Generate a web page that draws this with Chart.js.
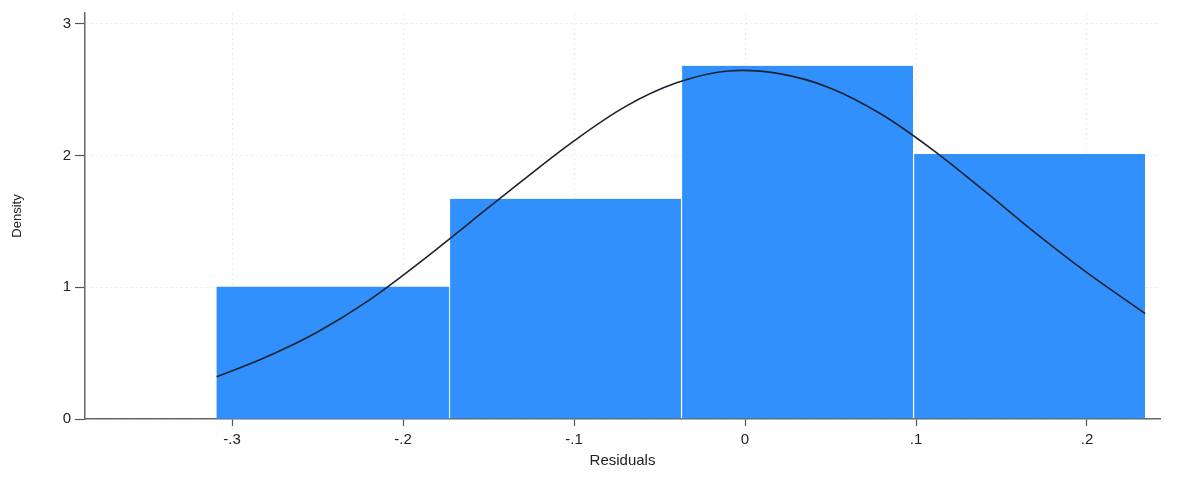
<!DOCTYPE html>
<html>
<head>
<meta charset="utf-8">
<script src="https://cdn.jsdelivr.net/npm/chart.js@4.4.1/dist/chart.umd.min.js"></script>
<style>
  html, body { margin: 0; padding: 0; background: #fff; }
  #wrap { width: 1177px; height: 486px; }
</style>
</head>
<body>
<div id="wrap"><canvas id="histChart" width="1177" height="486"></canvas></div>
<script>
// Histogram bins (centers) and their densities
const binCenters = [-0.241, -0.1053, 0.0304, 0.1661];
const binDensity = [1.0, 1.67, 2.68, 2.01];

// Overlaid normal density curve
const curveX = [-0.309, -0.28, -0.25, -0.22, -0.19, -0.16, -0.13, -0.10, -0.07, -0.04, -0.01, 0.02, 0.05, 0.08, 0.11, 0.14, 0.17, 0.20, 0.234];
const curveY = [0.32, 0.47, 0.66, 0.90, 1.19, 1.50, 1.81, 2.11, 2.37, 2.55, 2.64, 2.62, 2.51, 2.31, 2.04, 1.73, 1.41, 1.11, 0.80];

// Axis ticks
const xTicks = [-0.3, -0.2, -0.1, 0, 0.1, 0.2];
const xTickLabels = ['-.3', '-.2', '-.1', '0', '.1', '.2'];
const yTicks = [0, 1, 2, 3];

const tickFont = { family: "'Liberation Sans', Arial, sans-serif", size: 15 };
const textColor = '#222';

const ctx = document.getElementById('histChart').getContext('2d');

new Chart(ctx, {
    type: 'bar',
    data: {
        datasets: [
            {
                type: 'line',
                data: curveX.map((x, i) => ({ x: x, y: curveY[i] })),
                borderColor: '#1c2230',
                borderWidth: 1.6,
                pointRadius: 0,
                tension: 0.35,
                order: 0
            },
            {
                type: 'bar',
                data: binCenters.map((x, i) => ({ x: x, y: binDensity[i] })),
                backgroundColor: '#3190fb',
                borderColor: 'rgba(255,255,255,0.4)',
                // light separator between neighbouring bins only
                borderWidth: c => ({ left: c.dataIndex === 0 ? 0 : 1.5, right: 0, top: 0, bottom: 0 }),
                borderSkipped: false,
                barThickness: 'flex',
                categoryPercentage: 1,
                barPercentage: 1,
                order: 1
            }
        ]
    },
    options: {
        responsive: false,
        animation: false,
        layout: { padding: { left: 0, right: 17, top: 12, bottom: 0 } },
        plugins: {
            legend: { display: false },
            tooltip: { enabled: false }
        },
        scales: {
            x: {
                type: 'linear',
                min: -0.386,
                max: 0.2427,
                offset: false,
                afterBuildTicks: s => { s.ticks = xTicks.map(v => ({ value: v })); },
                afterFit: s => { s.height = 67; },
                ticks: {
                    color: textColor,
                    font: tickFont,
                    padding: 5,
                    maxRotation: 0,
                    callback: (v) => xTickLabels[xTicks.indexOf(v)]
                },
                grid: {
                    offset: false,
                    color: 'rgba(0,0,0,0.08)',
                    tickColor: '#555',
                    tickLength: 7,
                    tickWidth: 1.2
                },
                border: { color: '#666', width: 1.5, dash: [2, 3] },
                title: {
                    display: true,
                    text: 'Residuals',
                    color: textColor,
                    font: { family: "'Liberation Sans', Arial, sans-serif", size: 15 },
                    padding: { top: 0, bottom: 16 }
                }
            },
            y: {
                min: 0,
                max: 3.08,
                afterBuildTicks: s => { s.ticks = yTicks.map(v => ({ value: v })); },
                afterFit: s => { s.width = 85; },
                ticks: {
                    color: textColor,
                    font: tickFont,
                    padding: 4
                },
                grid: {
                    color: 'rgba(0,0,0,0.08)',
                    tickColor: '#555',
                    tickLength: 10,
                    tickWidth: 1.2
                },
                border: { color: '#666', width: 1.5, dash: [2, 3] },
                title: {
                    display: true,
                    text: 'Density',
                    color: textColor,
                    font: { family: "'Liberation Sans Narrow', 'Liberation Sans', Arial, sans-serif", size: 13 },
                    padding: { top: 10, bottom: 0 }
                }
            }
        }
    }
});
</script>
</body>
</html>
